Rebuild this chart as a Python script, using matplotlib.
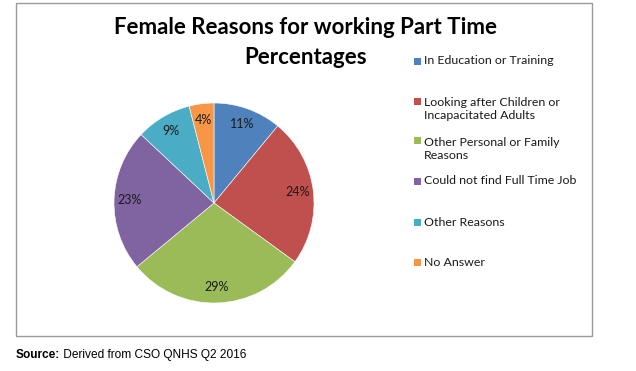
import matplotlib
matplotlib.use('Agg')
import matplotlib.pyplot as plt
from matplotlib.patches import Rectangle

# data
labels = ['In Education or Training',
          'Looking after Children or\nIncapacitated Adults',
          'Other Personal or Family\nReasons',
          'Could not find Full Time Job',
          'Other Reasons',
          'No Answer']
values = [11, 24, 29, 23, 9, 4]
colors = ['#4F81BD', '#C0504D', '#9BBB59', '#8064A2', '#4BACC6', '#F79646']

W, H = 636, 371
fig = plt.figure(figsize=(W / 100, H / 100), dpi=100)
fig.patch.set_facecolor('white')

# chart border
fig.add_artist(Rectangle((16 / W, 1 - 336 / H), (592 - 16) / W, (336 - 3) / H,
                         transform=fig.transFigure, fill=False,
                         edgecolor='#9a9a9a', linewidth=1.0))

# pie, centre ~(214, 203) px, radius ~100 px
ax = fig.add_axes([114 / W, 1 - 303 / H, 200 / W, 200 / H])
wedges, texts = ax.pie(values, colors=colors, startangle=90, counterclock=False,
                       labels=[f'{v}%' for v in values], labeldistance=0.84,
                       wedgeprops=dict(edgecolor='white', linewidth=0.4),
                       textprops=dict(fontsize=9, family='Lato', color='#1a1a1a'))
for t in texts:
    t.set_ha('center')
    t.set_va('center')
ax.set_aspect('equal')
ax.set_xlim(-1, 1)
ax.set_ylim(-1, 1)

# title
fig.text(306 / W, 1 - 28 / H, 'Female Reasons for working Part Time',
         ha='center', va='center', fontsize=16, fontweight='bold', family='Lato')
fig.text(306 / W, 1 - 57 / H, 'Percentages',
         ha='center', va='center', fontsize=16, fontweight='bold', family='Lato')

# legend
leg_y = [61, 109, 149, 181, 222, 262]
for lab, col, y in zip(labels, colors, leg_y):
    first_line = y - (8 if '\n' in lab else 0)
    fig.add_artist(Rectangle((414 / W, 1 - (first_line + 3.5) / H), 7 / W, 7 / H,
                             transform=fig.transFigure, facecolor=col, edgecolor='none'))
    fig.text(424 / W, 1 - y / H, lab, ha='left', va='center', fontsize=8.9,
             family='Lato', color='#1a1a1a', linespacing=1.3)

# source note
src = fig.text(16 / W, 1 - 355 / H, 'Source:', ha='left', va='center',
               fontsize=8.6, fontweight='bold', family='Liberation Sans')
plt.annotate(' Derived from CSO QNHS Q2 2016', xy=(1, 0.5), xycoords=src,
             va='center', ha='left', fontsize=8.6, family='Liberation Sans')

fig.savefig('out.png', dpi=100)
